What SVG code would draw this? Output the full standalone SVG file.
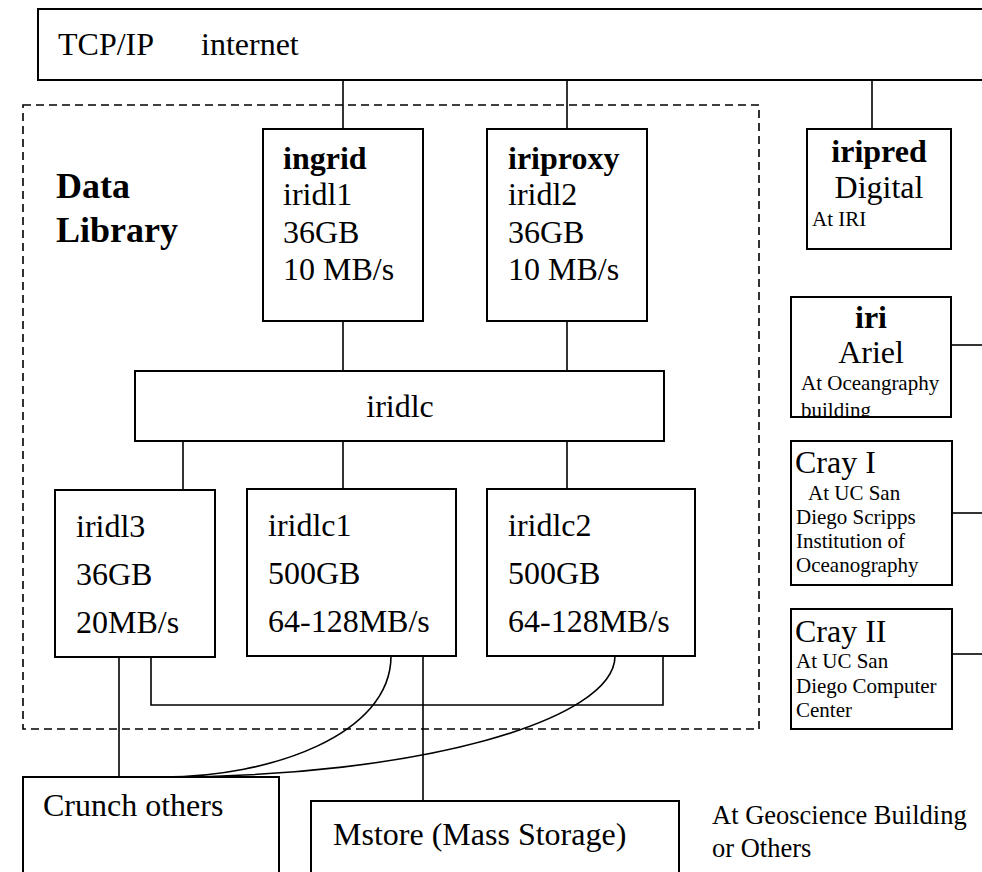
<svg xmlns="http://www.w3.org/2000/svg" width="982" height="872" viewBox="0 0 982 872">
<style>
text{font-family:"Liberation Serif","Times New Roman",serif;fill:#000}
.box{fill:#fff;stroke:#000;stroke-width:2}
.c{fill:none;stroke:#000;stroke-width:1.6}
.dash{fill:none;stroke:#000;stroke-width:1.6;stroke-dasharray:8 5}
.l{font-size:32px}
.b{font-size:32px;font-weight:bold}
.s{font-size:21px}
.m{text-anchor:middle}
</style>
<defs>
<clipPath id="iriclip"><rect x="791" y="297" width="160" height="119"/></clipPath>
</defs>
<rect width="982" height="872" fill="#fff"/>
<g id="datalibrary">
<rect class="dash" x="23" y="105" width="736" height="624"/>
<text class="b" style="font-size:36px" x="56" y="198">Data</text>
<text class="b" style="font-size:36px" x="56" y="242">Library</text>
</g>
<g id="connectors">
<line class="c" x1="343" y1="80" x2="343" y2="129"/>
<line class="c" x1="567" y1="80" x2="567" y2="129"/>
<line class="c" x1="872" y1="80" x2="872" y2="129"/>
<line class="c" x1="343" y1="321" x2="343" y2="371"/>
<line class="c" x1="567" y1="321" x2="567" y2="371"/>
<line class="c" x1="183" y1="441" x2="183" y2="490"/>
<line class="c" x1="343" y1="441" x2="343" y2="489"/>
<line class="c" x1="567" y1="441" x2="567" y2="489"/>
<line class="c" x1="119" y1="657" x2="119" y2="777"/>
<polyline class="c" points="151,657 151,705 663,705 663,656"/>
<line class="c" x1="423" y1="656" x2="423" y2="801"/>
<path class="c" d="M391,656 C391,735 270,777 163,777"/>
<path class="c" d="M615,656 C615,720 420,777 163,777"/>
<line class="c" x1="951" y1="345" x2="982" y2="345"/>
<line class="c" x1="952" y1="513" x2="982" y2="513"/>
<line class="c" x1="952" y1="654" x2="982" y2="654"/>
</g>
<g id="internet">
<rect class="box" x="38" y="9" width="960" height="71"/>
<text class="l" x="58" y="55">TCP/IP</text>
<text class="l" x="201" y="55">internet</text>
</g>
<g id="ingrid">
<rect class="box" x="263" y="129" width="160" height="192"/>
<text class="b" x="283" y="169">ingrid</text>
<text class="l" x="283" y="205">iridl1</text>
<text class="l" x="283" y="243">36GB</text>
<text class="l" x="283" y="280">10 MB/s</text>
</g>
<g id="iriproxy">
<rect class="box" x="487" y="129" width="160" height="192"/>
<text class="b" x="508" y="169">iriproxy</text>
<text class="l" x="508" y="205">iridl2</text>
<text class="l" x="508" y="243">36GB</text>
<text class="l" x="508" y="280">10 MB/s</text>
</g>
<g id="iridlc">
<rect class="box" x="135" y="371" width="529" height="70"/>
<text class="l m" x="400" y="417">iridlc</text>
</g>
<g id="iridl3">
<rect class="box" x="55" y="490" width="160" height="167"/>
<text class="l" x="76" y="537">iridl3</text>
<text class="l" x="76" y="585">36GB</text>
<text class="l" x="76" y="633">20MB/s</text>
</g>
<g id="iridlc1">
<rect class="box" x="247" y="489" width="209" height="167"/>
<text class="l" x="268" y="536">iridlc1</text>
<text class="l" x="268" y="584">500GB</text>
<text class="l" x="268" y="632">64-128MB/s</text>
</g>
<g id="iridlc2">
<rect class="box" x="487" y="489" width="208" height="167"/>
<text class="l" x="508" y="536">iridlc2</text>
<text class="l" x="508" y="584">500GB</text>
<text class="l" x="508" y="632">64-128MB/s</text>
</g>
<g id="iripred">
<rect class="box" x="807" y="129" width="144" height="120"/>
<text class="b m" x="879" y="162">iripred</text>
<text class="l m" x="879" y="198">Digital</text>
<text class="s" x="812" y="226">At IRI</text>
</g>
<g id="iri">
<rect class="box" x="791" y="297" width="160" height="120"/>
<text class="b m" x="871" y="328">iri</text>
<text class="l m" x="871" y="363">Ariel</text>
<g clip-path="url(#iriclip)">
<text class="s" x="801" y="390">At Oceangraphy</text>
<text class="s" x="801" y="417">building</text>
</g>
</g>
<g id="crayI">
<rect class="box" x="791" y="441" width="161" height="144"/>
<text class="l" x="795" y="473">Cray I</text>
<text class="s" x="808" y="500">At UC San</text>
<text class="s" x="796" y="524">Diego Scripps</text>
<text class="s" x="796" y="548">Institution of</text>
<text class="s" x="796" y="572">Oceanography</text>
</g>
<g id="crayII">
<rect class="box" x="791" y="609" width="161" height="120"/>
<text class="l" x="795" y="642">Cray II</text>
<text class="s" x="796" y="668">At UC San</text>
<text class="s" x="796" y="693">Diego Computer</text>
<text class="s" x="796" y="717">Center</text>
</g>
<g id="crunch">
<rect class="box" x="23" y="777" width="256" height="120"/>
<text class="l" x="43" y="816">Crunch others</text>
</g>
<g id="mstore">
<rect class="box" x="311" y="801" width="368" height="100"/>
<text class="l" x="333" y="845">Mstore (Mass Storage)</text>
</g>
<g id="geoscience">
<text style="font-size:26.5px" x="712" y="824">At Geoscience Building</text>
<text style="font-size:26.5px" x="712" y="857">or Others</text>
</g>
</svg>
